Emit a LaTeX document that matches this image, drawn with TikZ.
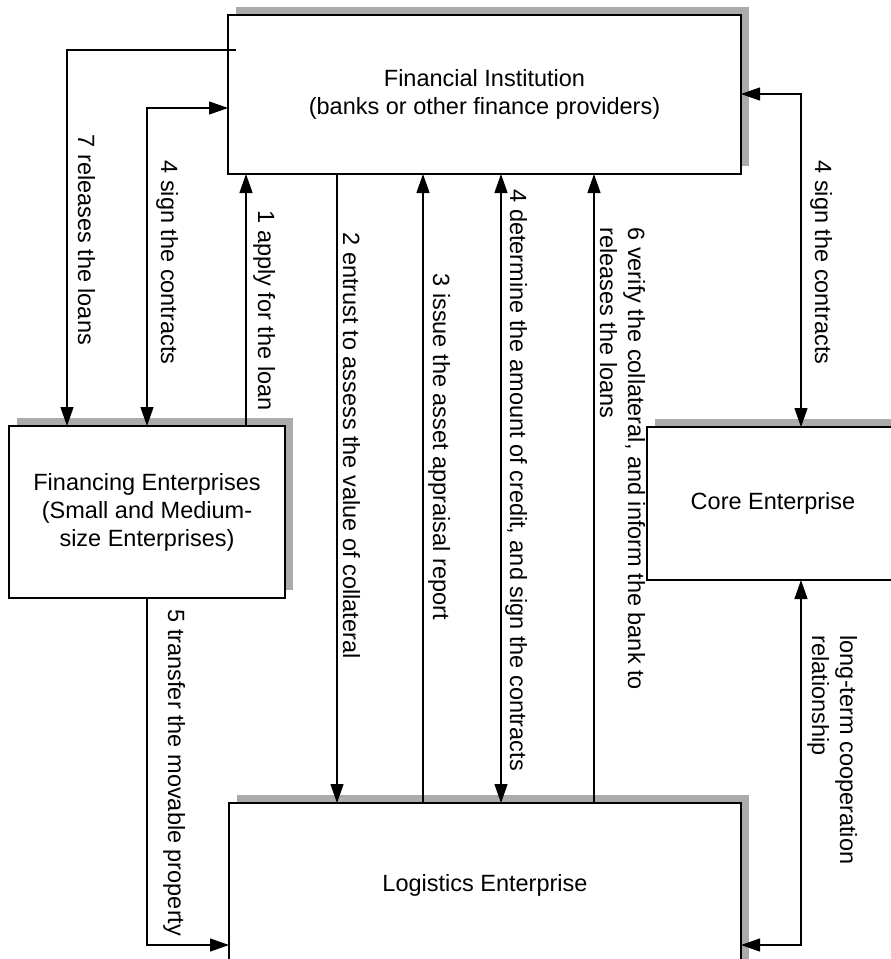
\documentclass[tikz,border=0pt]{standalone}
\usepackage{fontspec}
\setmainfont{Liberation Sans}
\usetikzlibrary{positioning,calc,shadows,arrows.meta}

\begin{document}
\begin{tikzpicture}[
  x=1pt, y=-1pt,
  box/.style = {
    draw,
    rectangle,
    line width=1.5pt,
    fill = white,
    inner sep=0pt,
    outer sep=0pt,
    align=center,
    font=\fontsize{23.5}{28}\selectfont,
    general shadow={fill=black!33, shadow xshift=8pt, shadow yshift=8pt},
  },
  lbl/.style = {
    rotate=-90,
    anchor=base west,
    inner sep=0pt,
    align=left,
    font=\fontsize{23.5}{28}\selectfont,
  },
  >={Triangle[length=19pt,width=13pt]},
  line width=1.2pt,
]

  \useasboundingbox (0,0) rectangle (891,959);
  \clip (0,0) rectangle (891,959);

  \node[box, minimum width=513pt, minimum height=159pt] (fin) at (484.5,94.5)
    {Financial Institution\\(banks or other finance providers)};
  \node[box, minimum width=276pt, minimum height=172pt] (fe) at (147,512)
    {Financing Enterprises\\(Small and Medium-\\size Enterprises)};
  \node[box, minimum width=252pt, minimum height=153pt] (core) at (773,503.5)
    {Core Enterprise};
  \node[box, minimum width=512pt, minimum height=164pt] (le) at (485,885)
    {Logistics Enterprise};

  % left loop connectors
  \coordinate (c7) at (67,50);
  \draw[->] ($(fin.west|-c7)+(8,0)$) -- (c7) -- (c7|-fe.north);
  \coordinate (c4l) at (147,108);
  \draw[<->] (fin.west|-c4l) -- (c4l) -- (c4l|-fe.north);

  % vertical connectors
  \coordinate (x1) at (246,0);
  \coordinate (x2) at (337,0);
  \coordinate (x3) at (423,0);
  \coordinate (x4) at (501,0);
  \coordinate (x6) at (594,0);
  \draw[->] (x1|-fe.north) -- (x1|-fin.south);
  \draw[->] (x2|-fin.south) -- (x2|-le.north);
  \draw[->] (x3|-le.north) -- (x3|-fin.south);
  \draw[<->] (x4|-fin.south) -- (x4|-le.north);
  \draw[->] (x6|-le.north) -- (x6|-fin.south);

  % right loop connectors
  \coordinate (c4r) at (801,94);
  \draw[<->] (fin.east|-c4r) -- (c4r) -- (c4r|-core.north);
  \coordinate (clt) at (801,945);
  \draw[<->] (clt|-core.south) -- (clt) -- (le.east|-clt);

  % movable property
  \coordinate (c5) at (147,945);
  \draw[->] (fe.south) -- (c5) -- (le.west|-c5);

  % labels
  \node[lbl] (l7) at (78,134) {7 releases the loans};
  \node[lbl] (l4a) at (161,160) {4 sign the contracts};
  \node[lbl] (l1) at (258,210) {1 apply for the loan};
  \node[lbl] (l2) at (343,232) {2 entrust to assess the value of collateral};
  \node[lbl] (l3) at (433,273) {3 issue the asset appraisal report};
  \node[lbl] (l4b) at (510,189) {4 determine the amount of credit, and sign the contracts};
  \node[lbl] (l6) at (600,227) {6 verify the collateral, and inform the bank to\\releases the loans};
  \node[lbl] (l4c) at (815,160) {4 sign the contracts};
  \node[lbl] (llt) at (812,635) {long-term cooperation\\relationship};
  \node[lbl] (l5) at (168,609) {5 transfer the movable property};
\end{tikzpicture}
\end{document}
